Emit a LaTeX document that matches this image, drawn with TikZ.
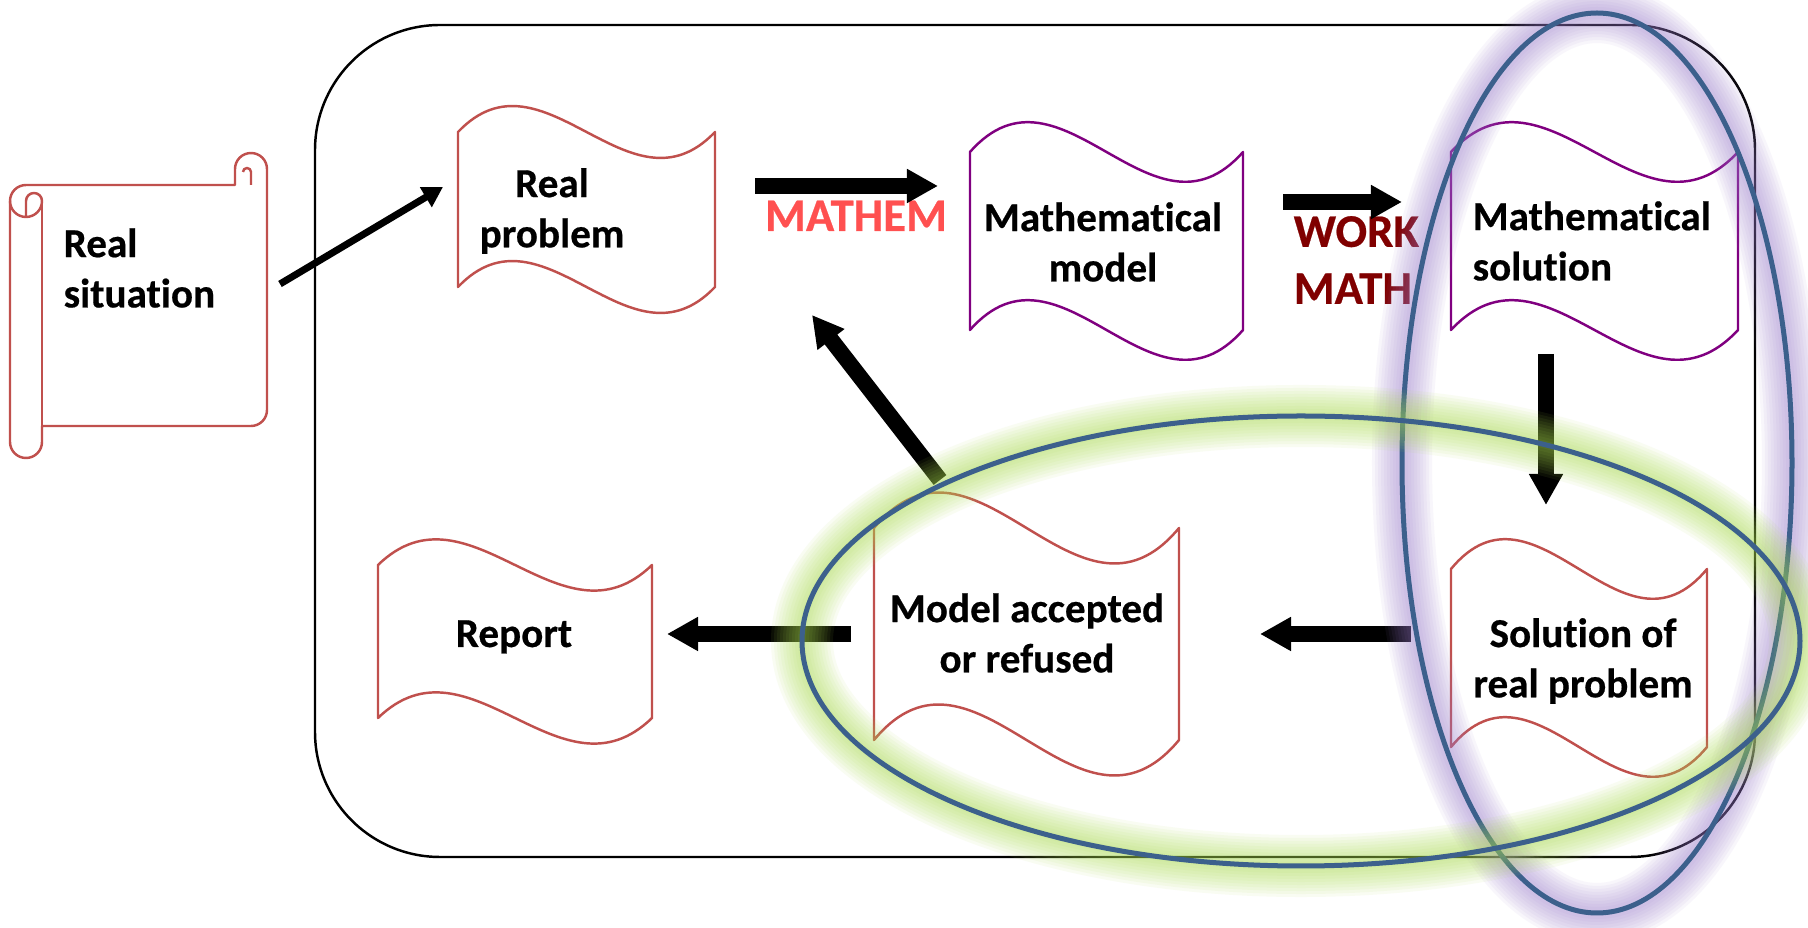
\documentclass[tikz,border=0pt]{standalone}
\usepackage{fontspec}
\setmainfont{Carlito}[Ligatures=NoCommon,BoldFeatures={FakeBold=0.5}]
\usetikzlibrary{arrows.meta}

\begin{document}
\begin{tikzpicture}[x=0.01cm,y=-0.01cm,line join=round]
    \definecolor{boxred}{RGB}{192,80,77}
    \definecolor{boxpurple}{RGB}{128,0,128}
    \definecolor{ringblue}{RGB}{60,96,140}
    \definecolor{glowgreen}{RGB}{172,222,80}
    \definecolor{glowpurple}{RGB}{155,125,205}
    \definecolor{mathemred}{RGB}{255,80,80}
    \definecolor{workred}{RGB}{128,0,0}
    \tikzset{
        pics/wave/.style n args={3}{code={
            \filldraw[fill=white,draw=#3,line width=0.7pt]
            (0,0) .. controls (#1/3,-0.58*#2) and (2*#1/3,0.58*#2) .. (#1,0)
            -- (#1,#2) .. controls (2*#1/3,1.58*#2) and (#1/3,0.42*#2) .. (0,#2)
            -- cycle;
        }},
        txt/.style={font=\fontsize{11.7}{14.3}\selectfont\bfseries,inner sep=0pt},
        bigtxt/.style={font=\fontsize{13.3}{16.2}\selectfont\bfseries,inner sep=0pt},
        blockarrow/.style={line width=0.16cm,-{Triangle[width=0.32cm,length=0.31cm]}},
        thinarrow/.style={line width=0.07cm,-{Triangle[width=0.22cm,length=0.2cm]}},
        ring/.style={draw=ringblue,line width=0.05cm}
    }
    \fill[white] (0,0) rectangle (1808,928);
    \useasboundingbox (0,0) rectangle (1808,928);

    % frame
    \draw[line width=0.7pt,rounded corners=1.25cm] (315,25) rectangle (1755,857);

    % scroll
    \begin{scope}[boxred,line width=0.7pt]
        \filldraw[fill=white] (10,201) arc[start angle=180,end angle=270,radius=16]
            -- (235,185) -- (235,169) arc[start angle=180,end angle=360,radius=16]
            -- (267,410) arc[start angle=0,end angle=90,radius=16]
            -- (42,426) -- (42,442) arc[start angle=0,end angle=180,radius=16] -- cycle;
        \draw (251,185) -- (251,172) arc[start angle=0,end angle=-180,radius=4];
        \draw (26,217) -- (26,201) arc[start angle=180,end angle=360,radius=8]
            arc[start angle=0,end angle=180,radius=16];
        \draw (42,201) -- (42,426);
    \end{scope}
    \node[txt,anchor=west,align=left] (rs) at (63,268) {Real\\situation};

    % boxes
    \pic at (458,132) {wave={257}{155}{boxred}};
    \node[txt,align=center] (rp) at (552,211) {Real\\problem};
    \pic at (970,152) {wave={273}{178}{boxpurple}};
    \node[txt,align=center] (mm) at (1103,242) {Mathematical\\model};
    \pic at (1451,152) {wave={287}{178}{boxpurple}};
    \node[txt,anchor=west,align=left] (ms) at (1472,241) {Mathematical\\solution};
    \pic at (1451,569) {wave={256}{178}{boxred}};
    \node[txt,align=center] (sr) at (1583,661) {Solution of\\real problem};
    \pic at (874,528) {wave={305}{212}{boxred}};
    \node[txt,align=center] (ma) at (1027,633) {Model accepted\\or refused};
    \pic at (378,565) {wave={274}{153}{boxred}};
    \node[txt,anchor=base] (rep) at (514,647) {Report};

    % labels
    \node[bigtxt,anchor=base,text=mathemred] (mathem) at (856,231) {MATHEM};
    \node[bigtxt,anchor=west,align=left,text=workred] (work) at (1293,260) {WORK\\MATH};

    % arrows
    \coordinate (rs-out) at (280,284);
    \coordinate (rp-in) at (443,187);
    \coordinate (rp-out) at (755,186);
    \coordinate (mm-in) at (938,186);
    \coordinate (mm-out) at (1283,202);
    \coordinate (ms-in) at (1402,202);
    \coordinate (ms-out) at (1546,354);
    \coordinate (sr-in) at (1546,505);
    \coordinate (sr-out) at (1411,634);
    \coordinate (ma-in) at (1260,634);
    \coordinate (ma-out) at (851,634);
    \coordinate (rep-in) at (667,634);
    \coordinate (ma-up) at (940,480);
    \coordinate (rp-back) at (812,315);
    \draw[thinarrow] (rs-out) -- (rp-in);
    \draw[blockarrow] (rp-out) -- (mm-in);
    \draw[blockarrow] (mm-out) -- (ms-in);
    \draw[blockarrow] (ms-out) -- (sr-in);
    \draw[blockarrow] (sr-out) -- (ma-in);
    \draw[blockarrow] (ma-out) -- (rep-in);
    \draw[blockarrow] (ma-up) -- (rp-back);

    % highlight rings with soft glow
    \foreach \w in {0.60,0.54,...,0.07}
        \draw[glowpurple,line width=\w cm,draw opacity=0.065] (1597,463) ellipse [x radius=195,y radius=450];
    \draw[ring] (1597,463) ellipse [x radius=195,y radius=450];
    \foreach \w in {0.62,0.56,...,0.07}
        \draw[glowgreen,line width=\w cm,draw opacity=0.07] (1301,641) ellipse [x radius=499,y radius=225];
    \draw[ring] (1301,641) ellipse [x radius=499,y radius=225];
\end{tikzpicture}
\end{document}
